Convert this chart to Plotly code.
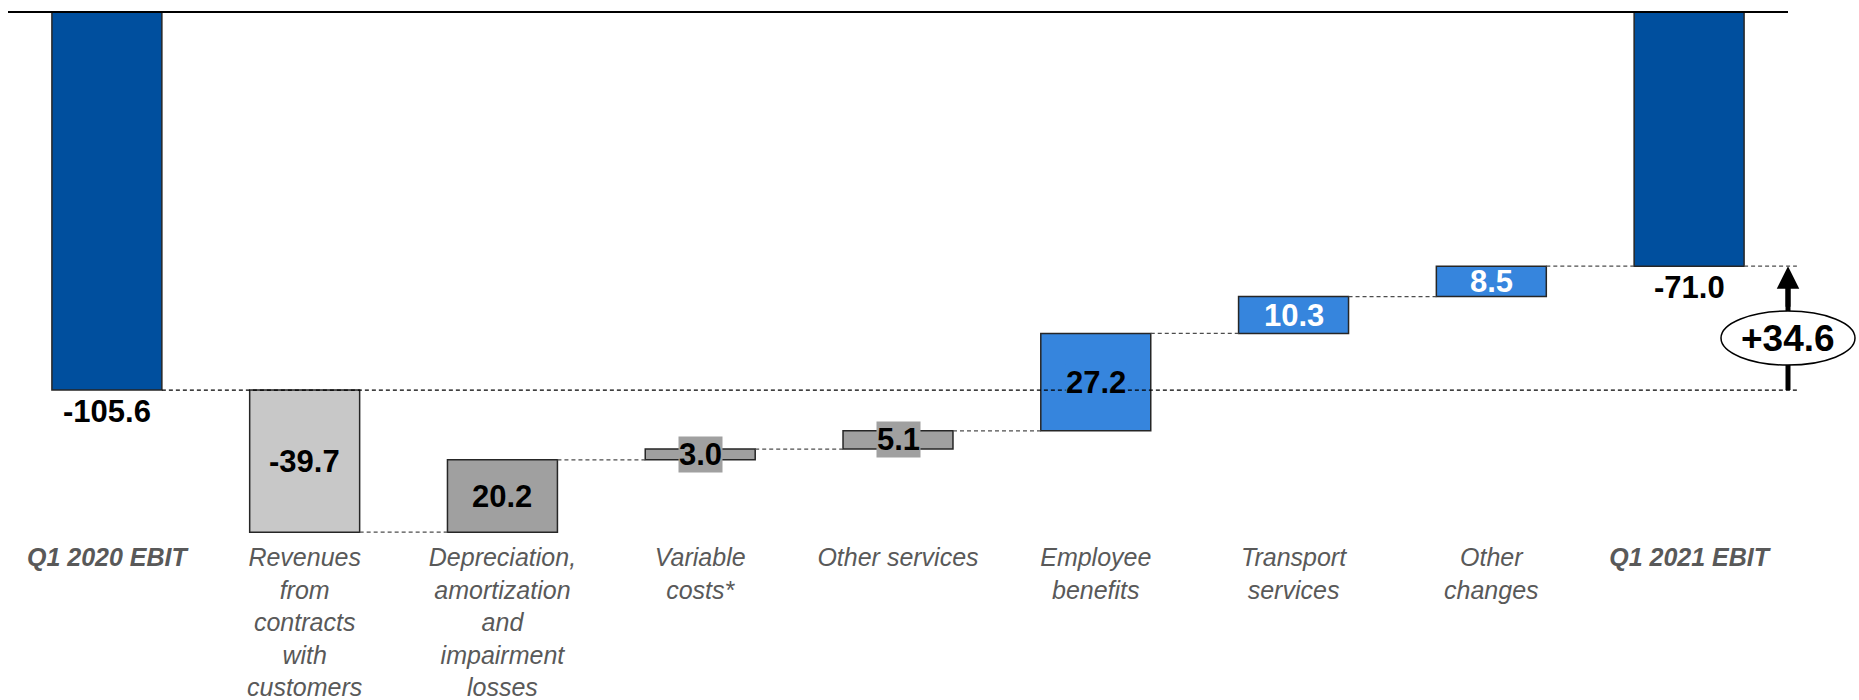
import plotly.graph_objects as go

# ---------------- data ----------------
categories = [
    "Q1 2020 EBIT",
    "Revenues from contracts with customers",
    "Depreciation, amortization and impairment losses",
    "Variable costs*",
    "Other services",
    "Employee benefits",
    "Transport services",
    "Other changes",
    "Q1 2021 EBIT",
]
tick_labels = [
    "<b><i>Q1 2020 EBIT</i></b>",
    "<i>Revenues<br>from<br>contracts<br>with<br>customers</i>",
    "<i>Depreciation,<br>amortization<br>and<br>impairment<br>losses</i>",
    "<i>Variable<br>costs*</i>",
    "<i>Other services</i>",
    "<i>Employee<br>benefits</i>",
    "<i>Transport<br>services</i>",
    "<i>Other<br>changes</i>",
    "<b><i>Q1 2021 EBIT</i></b>",
]
start_value = -105.6
deltas = [-39.7, 20.2, 3.0, 5.1, 27.2, 10.3, 8.5]
end_value = -71.0
value_labels = ["-105.6", "-39.7", "20.2", "3.0", "5.1", "27.2", "10.3", "8.5", "-71.0"]
change_label = "+34.6"

# ---------------- styles ----------------
DARK_BLUE = "#004F9E"
LIGHT_BLUE = "#3685DD"
LIGHT_GREY = "#C8C8C8"
MID_GREY = "#A0A0A0"
bar_colors = [DARK_BLUE, LIGHT_GREY, MID_GREY, MID_GREY, MID_GREY,
              LIGHT_BLUE, LIGHT_BLUE, LIGHT_BLUE, DARK_BLUE]
label_colors = ["black"] * 6 + ["white", "white", "black"]
label_bg = [None, None, None, MID_GREY, MID_GREY, LIGHT_BLUE, None, None, None]
FONT = "Liberation Sans, Arial, sans-serif"
VALUE_FONT = "Liberation Sans, Arial, sans-serif"

# ---------------- waterfall geometry from data ----------------
bases = [0.0]
heights = [start_value]
cum = start_value
for d in deltas:
    bases.append(cum)
    heights.append(d)
    cum += d
bases.append(0.0)
heights.append(end_value)

n = len(categories)
BARGAP = 0.444
half = (1 - BARGAP) / 2

fig = go.Figure()
fig.add_trace(go.Bar(
    x=list(range(n)),
    y=heights,
    base=bases,
    marker=dict(color=bar_colors, line=dict(color="#262626", width=1.5)),
    hoverinfo="skip",
    showlegend=False,
))

shapes = []
# connectors between bars
for i in range(1, n - 1):
    level = bases[i] + heights[i]
    shapes.append(dict(type="line", xref="x", yref="y",
                       x0=i + half, x1=i + 1 - half, y0=level, y1=level,
                       line=dict(color="#4d4d4d", width=1.2, dash="4px,3px"),
                       layer="above"))
# baseline of the start value across the chart
x_end_line = n - 1 + 0.5 + 0.045
shapes.append(dict(type="line", xref="x", yref="y",
                   x0=half, x1=x_end_line, y0=start_value, y1=start_value,
                   line=dict(color="black", width=1.2, dash="4px,3px"), layer="above"))
# end value line to the right of final bar
shapes.append(dict(type="line", xref="x", yref="y",
                   x0=n - 1 + half, x1=x_end_line, y0=end_value, y1=end_value,
                   line=dict(color="#4d4d4d", width=1.2, dash="4px,3px"), layer="above"))
# top zero line
shapes.append(dict(type="line", xref="x", yref="y",
                   x0=-0.5, x1=n - 0.5, y0=0, y1=0, line=dict(color="black", width=2)))
# arrow shaft
arrow_x = n - 0.5
shapes.append(dict(type="line", xref="x", yref="y",
                   x0=arrow_x, x1=arrow_x, y0=start_value, y1=end_value - 3,
                   line=dict(color="black", width=5)))
# ellipse
mid = (start_value + end_value) / 2
shapes.append(dict(type="circle", xref="x", yref="y",
                   xsizemode="pixel", ysizemode="pixel",
                   xanchor=arrow_x, yanchor=mid,
                   x0=-67, x1=67, y0=-37, y1=17,
                   fillcolor="white", line=dict(color="black", width=1.5)))

annotations = []
for i in range(n):
    total = i in (0, n - 1)
    if total:
        y = heights[i]
        yshift = -21
    else:
        y = bases[i] + heights[i] / 2
        yshift = 0
    ann = dict(x=i, y=y, xref="x", yref="y", text="<b>%s</b>" % value_labels[i],
               showarrow=False, yshift=yshift, yanchor="middle",
               font=dict(family=VALUE_FONT, size=31, color=label_colors[i]))
    if label_bg[i]:
        ann.update(bgcolor=label_bg[i], borderpad=0)
    annotations.append(ann)

# arrow head
annotations.append(dict(x=arrow_x, y=end_value, xref="x", yref="y",
                        ax=0, ay=42, text="", showarrow=True,
                        arrowhead=2, arrowsize=0.9, arrowwidth=5, arrowcolor="black"))
# change label
annotations.append(dict(x=arrow_x, y=mid, xref="x", yref="y", yshift=-10,
                        text="<b>%s</b>" % change_label, showarrow=False,
                        font=dict(family=VALUE_FONT, size=37, color="black")))

fig.update_layout(
    width=1859, height=700,
    margin=dict(l=8, r=0, t=5, b=160),
    plot_bgcolor="white", paper_bgcolor="white",
    bargap=BARGAP,
    shapes=shapes,
    annotations=annotations,
    xaxis=dict(range=[-0.5, n - 0.5 + 0.359], tickvals=list(range(n)), ticktext=tick_labels,
               showgrid=False, zeroline=False, showline=False, ticks="", automargin=False,
               tickfont=dict(family=FONT, size=25, color="#595959"), tickangle=0),
    yaxis=dict(range=[-147.49, 1.955], visible=False, showgrid=False, zeroline=False,
               automargin=False),
)

fig.write_html("out.html")
